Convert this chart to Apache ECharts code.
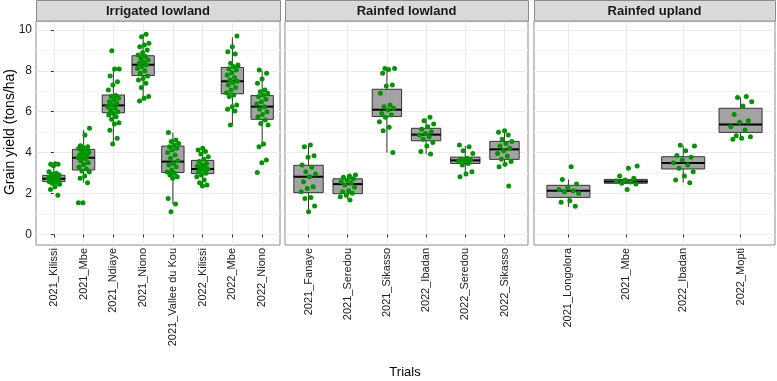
<!DOCTYPE html>
<html>
<head>
<meta charset="utf-8">
<script src="https://cdn.jsdelivr.net/npm/echarts@6/dist/echarts.min.js"></script>
<style>
  html, body { margin: 0; padding: 0; background: #fff; }
  #chart { width: 777px; height: 381px; }
</style>
</head>
<body>
<div id="chart"></div>
<script>
// facets and trials
const facetNames = ['Irrigated lowland', 'Rainfed lowland', 'Rainfed upland'];
const irrigatedTrials = ['2021_Kilissi', '2021_Mbe', '2021_Ndiaye', '2021_Niono', '2021_Vallee du Kou', '2022_Kilissi', '2022_Mbe', '2022_Niono'];
const rainfedLowTrials = ['2021_Fanaye', '2021_Seredou', '2021_Sikasso', '2022_Ibadan', '2022_Seredou', '2022_Sikasso'];
const uplandTrials = ['2021_Longolora', '2021_Mbe', '2022_Ibadan', '2022_Mopti'];

// grain yield per plot (tons/ha)
const yieldIrrigated = [
  [3.45, 3.43, 3.43, 3.36, 3.07, 2.99, 2.95, 2.9, 2.86, 2.82, 2.8, 2.77, 2.74, 2.72, 2.7, 2.66, 2.62, 2.58, 2.55, 2.5, 2.45, 2.33, 2.2, 1.91],
  [5.19, 4.86, 4.34, 4.29, 4.25, 4.2, 4.15, 4.1, 4.02, 3.95, 3.9, 3.85, 3.8, 3.75, 3.7, 3.6, 3.5, 3.42, 3.3, 3.2, 3.1, 3.05, 2.85, 2.74, 2.53, 1.55, 1.55],
  [8.99, 8.09, 8.09, 7.75, 7.47, 7.31, 7.06, 6.8, 6.74, 6.66, 6.57, 6.49, 6.41, 6.33, 6.25, 6.17, 6.08, 6.0, 5.92, 5.84, 5.76, 5.63, 5.46, 5.4, 5.1, 4.7, 4.42],
  [9.79, 9.67, 9.35, 9.27, 9.18, 9.02, 8.89, 8.78, 8.7, 8.61, 8.53, 8.45, 8.37, 8.29, 8.21, 8.12, 8.01, 7.88, 7.75, 7.63, 7.55, 7.39, 7.19, 6.74, 6.66, 6.53],
  [4.98, 4.62, 4.54, 4.45, 4.37, 4.29, 4.21, 4.13, 4.0, 3.88, 3.72, 3.6, 3.47, 3.39, 3.31, 3.15, 3.05, 2.99, 2.9, 2.82, 2.74, 1.76, 1.48, 1.11],
  [4.21, 4.13, 4.05, 3.93, 3.8, 3.67, 3.56, 3.47, 3.39, 3.35, 3.31, 3.23, 3.2, 3.15, 3.07, 2.99, 2.9, 2.82, 2.66, 2.53, 2.41, 2.37],
  [9.71, 9.18, 8.94, 8.82, 8.37, 8.29, 8.21, 8.1, 8.04, 7.91, 7.8, 7.68, 7.55, 7.49, 7.42, 7.31, 7.19, 7.06, 6.93, 6.82, 6.74, 6.33, 6.25, 6.12, 6.04, 5.35],
  [8.04, 7.88, 7.6, 7.39, 7.06, 6.98, 6.9, 6.82, 6.74, 6.61, 6.49, 6.38, 6.25, 6.12, 6.0, 5.87, 5.76, 5.6, 5.43, 5.35, 4.42, 4.29, 3.64, 3.51, 3.03]
];
const yieldRainfedLow = [
  [4.37, 4.29, 3.85, 3.77, 3.39, 3.28, 3.07, 2.95, 2.82, 2.58, 2.33, 2.25, 2.09, 1.81, 1.76, 1.39, 1.11],
  [2.9, 2.85, 2.79, 2.72, 2.66, 2.58, 2.5, 2.41, 2.3, 2.14, 2.09, 2.01, 1.92, 1.84, 1.68],
  [8.12, 8.12, 8.07, 7.88, 7.31, 7.26, 6.9, 6.33, 6.25, 6.17, 6.08, 5.92, 5.84, 5.73, 5.51, 5.24, 5.07, 4.0],
  [5.73, 5.56, 5.4, 5.27, 5.14, 5.02, 4.94, 4.86, 4.78, 4.65, 4.49, 4.32, 4.05, 3.93],
  [4.37, 4.29, 4.09, 3.96, 3.72, 3.67, 3.64, 3.61, 3.56, 3.47, 3.39, 3.07, 2.95, 2.82],
  [5.07, 5.0, 4.86, 4.65, 4.54, 4.45, 4.32, 4.21, 4.09, 3.96, 3.83, 3.67, 3.56, 3.43, 3.31, 2.37]
];
const yieldUpland = [
  [3.31, 2.69, 2.46, 2.3, 2.2, 2.14, 2.09, 2.01, 1.65, 1.57, 1.37],
  [3.34, 3.23, 2.85, 2.74, 2.66, 2.61, 2.56, 2.5, 2.46, 2.2],
  [4.36, 4.32, 4.09, 3.86, 3.77, 3.64, 3.51, 3.39, 3.23, 3.07, 2.85, 2.66, 2.53],
  [6.74, 6.7, 6.49, 6.28, 5.87, 5.56, 5.48, 5.27, 5.11, 4.83, 4.78, 4.7, 4.65]
];

// box statistics [lower whisker, Q1, median, Q3, upper whisker]
const boxIrrigated = [
  [2.2, 2.58, 2.72, 2.89, 3.36],
  [2.53, 3.15, 3.75, 4.16, 5.1],
  [4.45, 5.95, 6.31, 6.82, 8.09],
  [6.53, 7.77, 8.3, 8.74, 9.79],
  [1.48, 3.03, 3.56, 4.32, 4.98],
  [2.37, 2.97, 3.2, 3.62, 4.21],
  [5.35, 6.88, 7.49, 8.17, 9.64],
  [4.29, 5.63, 6.25, 6.79, 8.01]
];
const boxRainfedLow = [
  [1.11, 2.04, 2.82, 3.38, 4.37],
  [1.71, 1.99, 2.46, 2.72, 2.9],
  [4.0, 5.77, 6.1, 7.1, 8.12],
  [3.93, 4.58, 4.88, 5.19, 5.68],
  [2.99, 3.47, 3.62, 3.78, 4.32],
  [3.31, 3.67, 4.16, 4.55, 5.06]
];
const boxUpland = [
  [1.35, 1.81, 2.14, 2.4, 2.69],
  [2.46, 2.5, 2.59, 2.69, 2.74],
  [2.53, 3.2, 3.49, 3.8, 4.34],
  [4.7, 4.99, 5.37, 6.17, 6.7]
];

const yTicks = [0, 2, 4, 6, 8, 10];
const yMinorTicks = [1, 3, 5, 7, 9];

const facetTrials = [irrigatedTrials, rainfedLowTrials, uplandTrials];
const facetYields = [yieldIrrigated, yieldRainfedLow, yieldUpland];
const facetBoxes = [boxIrrigated, boxRainfedLow, boxUpland];

const panelLeft = [36, 285, 534];
const panelWidth = [244, 243, 241];
const panelTop = 21;
const panelHeight = 224;
const font = 'Liberation Sans, Arial, Helvetica, sans-serif';

function renderBox(params, api) {
  const x = api.value(0);
  const bw = api.size([0.75, 0])[0];
  const lo = api.coord([x, api.value(1)]);
  const q1 = api.coord([x, api.value(2)]);
  const med = api.coord([x, api.value(3)]);
  const q3 = api.coord([x, api.value(4)]);
  const hi = api.coord([x, api.value(5)]);
  const cx = lo[0];
  const line = { stroke: '#333', lineWidth: 1 };
  return {
    type: 'group',
    children: [
      { type: 'line', shape: { x1: cx, y1: q1[1], x2: cx, y2: lo[1] }, style: line },
      { type: 'line', shape: { x1: cx, y1: q3[1], x2: cx, y2: hi[1] }, style: line },
      { type: 'rect', shape: { x: cx - bw / 2, y: q3[1], width: bw, height: q1[1] - q3[1] },
        style: { fill: '#A3A3A3', stroke: '#333', lineWidth: 1 } },
      { type: 'line', shape: { x1: cx - bw / 2, y1: med[1], x2: cx + bw / 2, y2: med[1] },
        style: { stroke: '#000', lineWidth: 2 } }
    ]
  };
}

const grids = [];
const xAxes = [];
const yAxes = [];
const series = [];
const graphics = [];

facetNames.forEach(function (facet, i) {
  const names = facetTrials[i];
  const idx = names.map(function (n, k) { return k; });
  grids.push({
    left: panelLeft[i], top: panelTop, width: panelWidth[i], height: panelHeight,
    show: true, borderColor: '#8c8c8c', borderWidth: 1, backgroundColor: '#fff',
    outerBoundsMode: 'none'
  });
  xAxes.push({
    gridIndex: i, type: 'value', min: -0.6, max: names.length - 0.4,
    axisLine: { show: false },
    axisTick: { show: true, customValues: idx, length: 3, lineStyle: { color: '#333' } },
    axisLabel: {
      customValues: idx, rotate: 90, margin: 3, fontSize: 11, color: '#222', fontFamily: font,
      formatter: function (v) { return names[Math.round(v)]; }
    },
    splitLine: { show: true, lineStyle: { color: '#EBEBEB', width: 1 } }
  });
  yAxes.push({
    gridIndex: i, type: 'value', min: -0.52, max: 10.44,
    axisLine: { show: false },
    axisTick: { show: i === 0, customValues: yTicks, length: 3, lineStyle: { color: '#333' } },
    axisLabel: { show: i === 0, customValues: yTicks, margin: 4, fontSize: 12, color: '#222', fontFamily: font },
    splitLine: { show: true, lineStyle: { color: '#EBEBEB', width: 1 } }
  });
  yAxes.push({
    gridIndex: i, type: 'value', min: -0.52, max: 10.44,
    axisLine: { show: false },
    axisTick: { show: false, customValues: yMinorTicks },
    axisLabel: { show: false, customValues: yMinorTicks },
    splitLine: { show: true, lineStyle: { color: '#F4F4F4', width: 1 } }
  });

  series.push({
    type: 'custom', xAxisIndex: i, yAxisIndex: 2 * i, z: 3,
    renderItem: renderBox,
    encode: { x: 0, y: [1, 2, 3, 4, 5] },
    data: facetBoxes[i].map(function (b, k) { return [k].concat(b); }),
    silent: true
  });

  const pts = [];
  facetYields[i].forEach(function (vals, k) {
    vals.forEach(function (v, j) {
      const jit = (((j + 1) * 0.618034 + k * 0.377) % 1 - 0.5) * 0.4;
      pts.push([k + jit, v]);
    });
  });
  series.push({
    type: 'scatter', xAxisIndex: i, yAxisIndex: 2 * i, z: 5,
    symbolSize: 5, itemStyle: { color: '#009600', opacity: 1 },
    data: pts, silent: true
  });

  graphics.push({
    type: 'rect', z: 10,
    shape: { x: panelLeft[i] + 0.5, y: 0.5, width: panelWidth[i], height: panelTop - 0.5 },
    style: { fill: '#D9D9D9', stroke: '#8c8c8c', lineWidth: 1 }
  });
  graphics.push({
    type: 'text', z: 11,
    x: panelLeft[i] + panelWidth[i] / 2, y: 11,
    style: { text: facet, font: 'bold 13px ' + font, fill: '#1A1A1A', textAlign: 'center', textVerticalAlign: 'middle' }
  });
});

graphics.push({
  type: 'text', x: 10, y: 132, rotation: Math.PI / 2,
  style: { text: 'Grain yield (tons/ha)', font: '14px ' + font, fill: '#000', textAlign: 'center', textVerticalAlign: 'middle' }
});
graphics.push({
  type: 'text', x: 405, y: 372,
  style: { text: 'Trials', font: '13px ' + font, fill: '#000', textAlign: 'center', textVerticalAlign: 'middle' }
});

const chart = echarts.init(document.getElementById('chart'), null, { renderer: 'canvas' });
chart.setOption({
  animation: false,
  backgroundColor: '#fff',
  grid: grids,
  xAxis: xAxes,
  yAxis: yAxes,
  series: series,
  graphic: graphics
});
</script>
</body>
</html>
